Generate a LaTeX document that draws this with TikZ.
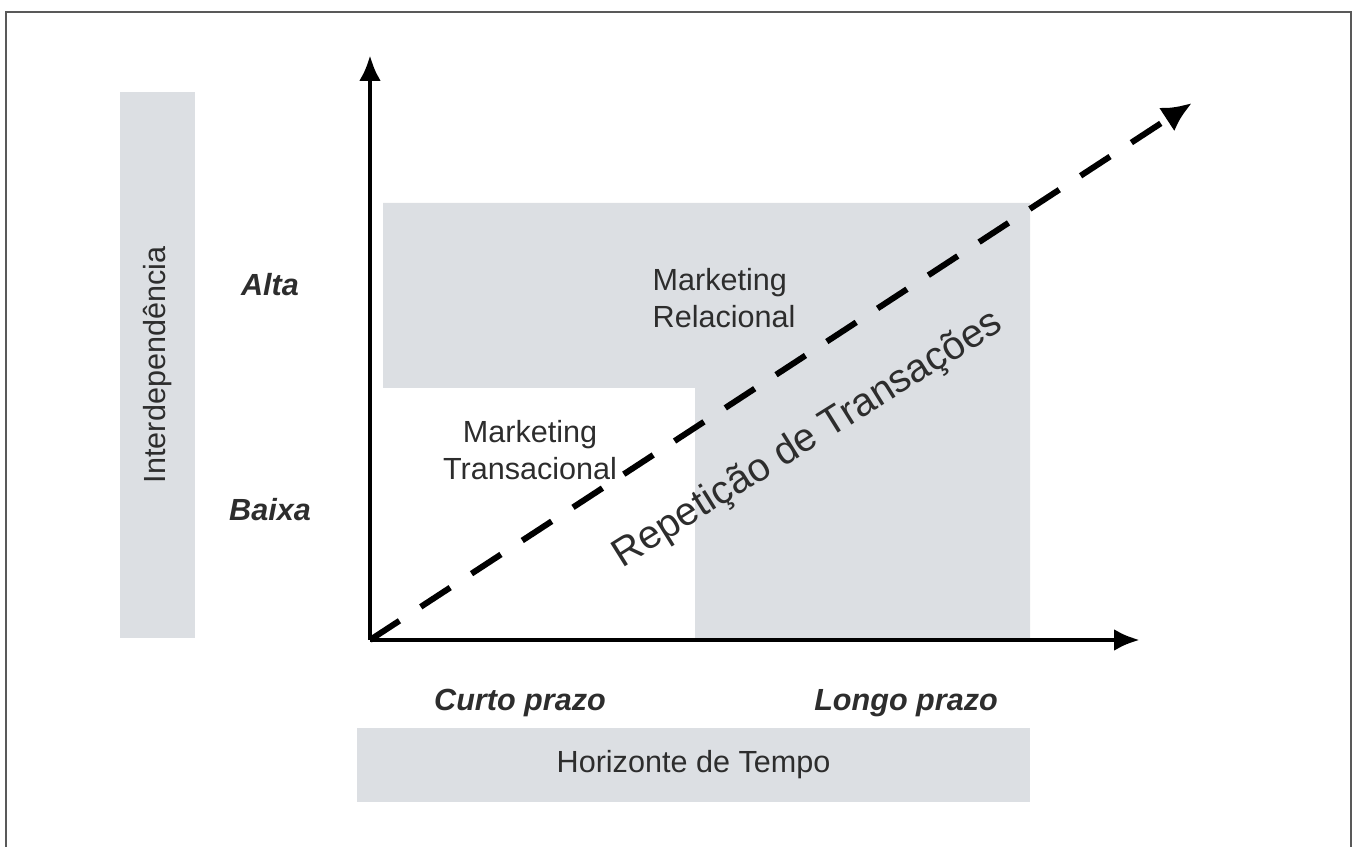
\documentclass[tikz,border=0pt]{standalone}
\usepackage{fontspec}
\setmainfont{Liberation Sans}
\usepackage{xcolor}
\usepackage{tikz}
\usetikzlibrary{arrows.meta}

\definecolor{bandgray}{RGB}{220,223,227}
\definecolor{textgray}{RGB}{45,45,45}

\begin{document}
\begin{tikzpicture}[
	txt/.style={font=\fontsize{8.7}{10.5}\selectfont, text=textgray, inner sep=0, align=center},
	tick/.style={font=\fontsize{8.7}{10.5}\selectfont\bfseries\itshape, text=textgray, inner sep=0},
	bar/.style={txt, fill=bandgray, draw=none},
	axis/.style={line width=1.4pt, -{Latex[length=0.26cm, width=0.22cm]}}
]
\clip (-3.70,-2.07) rectangle (9.85,6.40);
\draw[line width=0.8pt, black!65] (-3.64,-2.3) -- (-3.64,6.28) -- (9.81,6.28) -- (9.81,-2.3);

% shaded area
\fill[bandgray] (0.13,4.37) -- (6.60,4.37) -- (6.60,0) -- (3.25,0) -- (3.25,2.52) -- (0.13,2.52) -- cycle;

\node[bar, rotate=90, minimum width=5.46cm, minimum height=0.75cm] (interdep) at (-2.125,2.75) {Interdependência};
\node[bar, minimum width=6.73cm, minimum height=0.74cm] (tempo) at (3.235,-1.25) {Horizonte de Tempo};

\node[tick] (alta)  at (-1.00,3.55) {Alta};
\node[tick] (baixa) at (-1.00,1.30) {Baixa};
\node[tick] (curto) at (1.50,-0.63) {Curto prazo};
\node[tick] (longo) at (5.36,-0.63) {Longo prazo};

\node[txt, align=left, anchor=west] (relac) at (2.82,3.42) {Marketing\\Relacional};
\node[txt] (transac) at (1.60,1.90) {Marketing\\Transacional};

\coordinate (o) at (0,0);
\coordinate (ytip) at (0,5.85);
\coordinate (xtip) at (7.70,0);
\coordinate (dtip) at (8.22,5.37);

\draw[axis] (o) -- (ytip);
\draw[axis] (o) -- (xtip);
\draw[line width=1.7pt, dash pattern=on 10pt off 7.25pt, -{Latex[length=0.3cm, width=0.28cm]}] (o) -- (dtip);

\node[txt, font=\fontsize{11.3}{13}\selectfont, rotate=32] (repet) at (4.38,2.00) {Repetição de Transações};
\end{tikzpicture}
\end{document}
